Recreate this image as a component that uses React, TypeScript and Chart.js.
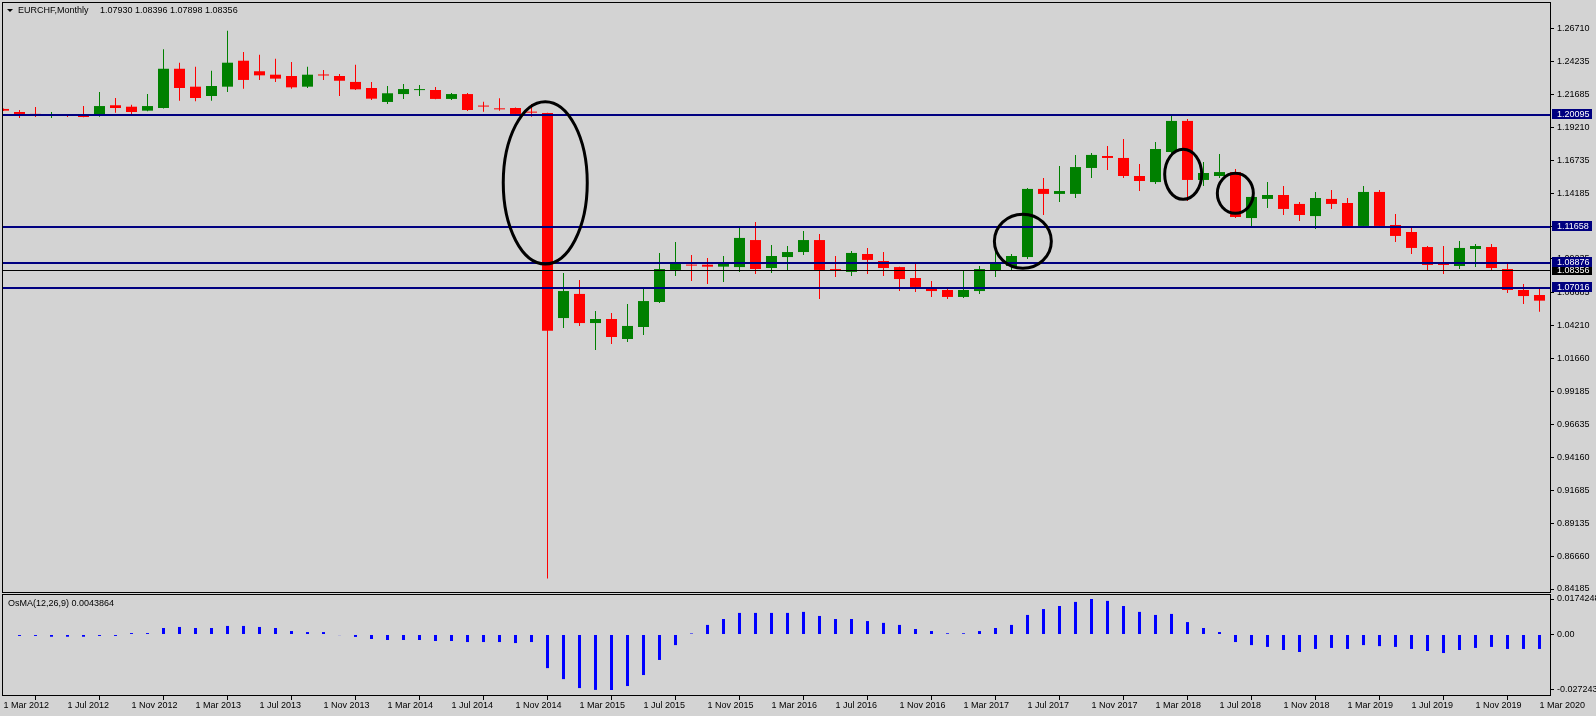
import React, { useEffect, useRef } from "react";
import { Chart, registerables } from "chart.js";

Chart.register(...registerables);

// ---- Monthly EURCHF candles, Mar 2012 (index 0) .. Mar 2020 (index 96) ----
const OPEN = [
  1.2062, 1.2039, 1.2019, 1.2012, 1.2014, 1.2014, 1.2021, 1.2090, 1.2079, 1.2049,
  1.2069, 1.2367, 1.2231, 1.2160, 1.2231, 1.2428, 1.2348, 1.2322, 1.2312, 1.2231,
  1.2319, 1.2312, 1.2267, 1.2221, 1.2115, 1.2175, 1.2205, 1.2206, 1.2138, 1.2175,
  1.2083, 1.2061, 1.2069, 1.2039, 1.2031, 1.0475, 1.0658, 1.0437, 1.0468, 1.0316,
  1.0407, 1.0597, 1.0840, 1.0878, 1.0880, 1.0865, 1.0862, 1.1067, 1.0855, 1.0938,
  1.0976, 1.1067, 1.0842, 1.0825, 1.0961, 1.0908, 1.0862, 1.0779, 1.0703, 1.0688,
  1.0635, 1.0680, 1.0832, 1.0870, 1.0938, 1.1455, 1.1417, 1.1417, 1.1614, 1.1705,
  1.1690, 1.1553, 1.1507, 1.1735, 1.1971, 1.1523, 1.1553, 1.1583, 1.1234, 1.1379,
  1.1409, 1.1341, 1.1249, 1.1379, 1.1348, 1.1174, 1.1432, 1.1181, 1.1128, 1.1014,
  1.0893, 1.0870, 1.0999, 1.1014, 1.0847, 1.0688, 1.0650,
];
const HIGH = [
  1.2066, 1.2054, 1.2077, 1.2039, 1.2019, 1.2084, 1.2191, 1.2145, 1.2094, 1.2175,
  1.2515, 1.2413, 1.2383, 1.2352, 1.2656, 1.2494, 1.2474, 1.2443, 1.2418, 1.2383,
  1.2358, 1.2327, 1.2398, 1.2267, 1.2236, 1.2251, 1.2244, 1.2229, 1.2183, 1.2183,
  1.2117, 1.2143, 1.2072, 1.2100, 1.2033, 1.0817, 1.0764, 1.0528, 1.0513, 1.0582,
  1.0703, 1.0969, 1.1052, 1.0954, 1.0931, 1.0946, 1.1166, 1.1204, 1.1029, 1.1022,
  1.1136, 1.1113, 1.0946, 1.0984, 1.1007, 1.0976, 1.0865, 1.0885, 1.0756, 1.0695,
  1.0840, 1.0870, 1.0991, 1.0961, 1.1462, 1.1538, 1.1629, 1.1713, 1.1728, 1.1781,
  1.1834, 1.1644, 1.1811, 1.2016, 1.1986, 1.1659, 1.1720, 1.1606, 1.1397, 1.1507,
  1.1477, 1.1356, 1.1432, 1.1447, 1.1386, 1.1477, 1.1447, 1.1264, 1.1158, 1.1022,
  1.1022, 1.1060, 1.1037, 1.1037, 1.0893, 1.0733, 1.0695,
];
const LOW = [
  1.2047, 1.1993, 1.2001, 1.1993, 1.2001, 1.1999, 1.2003, 1.2034, 1.2024, 1.2044,
  1.2066, 1.2125, 1.2120, 1.2125, 1.2191, 1.2216, 1.2282, 1.2267, 1.2216, 1.2221,
  1.2282, 1.2160, 1.2206, 1.2130, 1.2100, 1.2138, 1.2160, 1.2135, 1.2130, 1.2046,
  1.2041, 1.2049, 1.2020, 1.2003, 0.8498, 1.0399, 1.0415, 1.0232, 1.0278, 1.0293,
  1.0346, 1.0589, 1.0794, 1.0756, 1.0733, 1.0749, 1.0825, 1.0809, 1.0817, 1.0840,
  1.0954, 1.0620, 1.0787, 1.0794, 1.0809, 1.0794, 1.0680, 1.0673, 1.0635, 1.0620,
  1.0627, 1.0658, 1.0787, 1.0840, 1.0923, 1.1257, 1.1356, 1.1386, 1.1538, 1.1599,
  1.1538, 1.1439, 1.1492, 1.1720, 1.1363, 1.1477, 1.1538, 1.1234, 1.1174, 1.1310,
  1.1257, 1.1211, 1.1151, 1.1303, 1.1170, 1.1170, 1.1170, 1.1052, 1.0961, 1.0832,
  1.0809, 1.0847, 1.0862, 1.0840, 1.0665, 1.0582, 1.0523,
];
const CLOSE = [
  1.2049, 1.2024, 1.2017, 1.2014, 1.2010, 1.2001, 1.2084, 1.2069, 1.2039, 1.2084,
  1.2367, 1.2221, 1.2145, 1.2236, 1.2413, 1.2282, 1.2317, 1.2292, 1.2226, 1.2322,
  1.2316, 1.2276, 1.2211, 1.2140, 1.2181, 1.2213, 1.2208, 1.2138, 1.2175, 1.2054,
  1.2080, 1.2059, 1.2024, 1.2034, 1.0379, 1.0680, 1.0437, 1.0468, 1.0331, 1.0415,
  1.0604, 1.0847, 1.0893, 1.0873, 1.0865, 1.0893, 1.1083, 1.0847, 1.0946, 1.0976,
  1.1067, 1.0840, 1.0839, 1.0969, 1.0916, 1.0855, 1.0771, 1.0711, 1.0680, 1.0635,
  1.0688, 1.0847, 1.0893, 1.0946, 1.1455, 1.1417, 1.1439, 1.1621, 1.1713, 1.1690,
  1.1553, 1.1515, 1.1758, 1.1971, 1.1523, 1.1576, 1.1583, 1.1242, 1.1394, 1.1409,
  1.1303, 1.1257, 1.1386, 1.1341, 1.1174, 1.1432, 1.1174, 1.1098, 1.1007, 1.0878,
  1.0878, 1.1007, 1.1022, 1.0855, 1.0688, 1.0642, 1.0607,
];

// ---- OsMA(12,26,9) histogram ----
const OSMA = [
  null, -0.0007, -0.0007, -0.0011, -0.0011, -0.0011, -0.0007, -0.0007, 0.0007, 0.0007,
  0.0032, 0.0037, 0.0032, 0.0032, 0.0042, 0.0042, 0.0037, 0.0032, 0.0017, 0.0012,
  0.0012, -0.0003, -0.0012, -0.0022, -0.0027, -0.0027, -0.0027, -0.0032, -0.0032, -0.0037,
  -0.0037, -0.0037, -0.0042, -0.0037, -0.0165, -0.0219, -0.0263, -0.0272, -0.027243, -0.0253,
  -0.0199, -0.0125, -0.0052, 0.0005, 0.0047, 0.0076, 0.0106, 0.0106, 0.0106, 0.0106,
  0.0111, 0.0091, 0.0076, 0.0076, 0.0066, 0.0057, 0.0047, 0.0027, 0.0017, 0.0006,
  0.0006, 0.0017, 0.0032, 0.0047, 0.0096, 0.0125, 0.0140, 0.0160, 0.0174248, 0.0165,
  0.0140, 0.0111, 0.0096, 0.0101, 0.0061, 0.0032, 0.0012, -0.0037, -0.0052, -0.0061,
  -0.0076, -0.0086, -0.0071, -0.0066, -0.0071, -0.0052, -0.0057, -0.0061, -0.0071, -0.0081,
  -0.0091, -0.0076, -0.0066, -0.0061, -0.0071, -0.0071, -0.0071,
];

// ---- axes ----
const X_TICK_LABELS = [
  "1 Mar 2012", "1 Jul 2012", "1 Nov 2012", "1 Mar 2013", "1 Jul 2013", "1 Nov 2013",
  "1 Mar 2014", "1 Jul 2014", "1 Nov 2014", "1 Mar 2015", "1 Jul 2015", "1 Nov 2015",
  "1 Mar 2016", "1 Jul 2016", "1 Nov 2016", "1 Mar 2017", "1 Jul 2017", "1 Nov 2017",
  "1 Mar 2018", "1 Jul 2018", "1 Nov 2018", "1 Mar 2019", "1 Jul 2019", "1 Nov 2019",
  "1 Mar 2020",
];
const X_TICK_INDEX = [0, 4, 8, 12, 16, 20, 24, 28, 32, 36, 40, 44, 48, 52, 56, 60, 64, 68, 72, 76, 80, 84, 88, 92, 96];
const PRICE_TICKS = [
  1.2671, 1.24235, 1.21685, 1.1921, 1.16735, 1.14185, 1.1171, 1.09235, 1.06685,
  1.0421, 1.0166, 0.99185, 0.96635, 0.9416, 0.91685, 0.89135, 0.8666, 0.84185,
];
const OSMA_TICKS = [0.0174248, 0, -0.027243];
const OSMA_TICK_LABELS = ["0.0174248", "0.00", "-0.027243"];

// ---- horizontal levels and annotations ----
const LEVELS = [1.20095, 1.11658, 1.08876, 1.07016];
const LEVEL_LABELS = ["1.20095", "1.11658", "1.08876", "1.07016"];
const BID = 1.08356;
const BID_LABEL = "1.08356";
const ELLIPSE_MONTH = [33.86, 63.71, 73.73, 76.99];
const ELLIPSE_PRICE = [1.15014, 1.10574, 1.1566, 1.14218];
const ELLIPSE_HALF_MONTHS = [2.625, 1.78, 1.156, 1.125];
const ELLIPSE_HALF_PRICE = [0.0616, 0.0205, 0.019, 0.0152];

const HEADER_SYMBOL = "EURCHF,Monthly";
const HEADER_PRICES = "1.07930 1.08396 1.07898 1.08356";
const OSMA_TITLE = "OsMA(12,26,9) 0.0043864";

// ---- style ----
const BG = "#D3D3D3";
const RED = "#FF0000";
const GREEN = "#008000";
const NAVY = "#000080";
const BLUE = "#0000FF";
const FONT = '"Liberation Sans", Arial, sans-serif';
const FONT_SIZE = 9;

const X_MIN = -0.09375;
const X_MAX = 96.71875;
const Y_MAX = 1.287364;
const Y_MIN = 0.838825;
const OSC_MAX = 0.019882;
const OSC_MIN = -0.030191;

function fixAxis(width?: number, height?: number) {
  return (ax: any) => {
    if (width !== undefined) ax.width = width;
    if (height !== undefined) ax.height = height;
    ax.paddingTop = 0;
    ax.paddingBottom = 0;
    ax.paddingLeft = 0;
    ax.paddingRight = 0;
  };
}

export default function App() {
  const mainRef = useRef<HTMLCanvasElement>(null);
  const oscRef = useRef<HTMLCanvasElement>(null);

  useEffect(() => {
    document.body.style.margin = "0";
    document.body.style.background = BG;

    const idx = OPEN.map((_, i) => i);
    const colors = idx.map((i) => (CLOSE[i] >= OPEN[i] ? GREEN : RED));

    const mainPlugin = {
      id: "mt4main",
      afterDatasetsDraw(chart: any) {
        const { ctx, chartArea: a, scales } = chart;
        const ys = scales.y;
        const xs = scales.x;
        ctx.save();
        ctx.beginPath();
        ctx.rect(a.left, a.top, a.right - a.left, a.bottom - a.top);
        ctx.clip();
        ctx.fillStyle = "#000000";
        const by = Math.floor(ys.getPixelForValue(BID));
        ctx.fillRect(a.left, by, a.right - a.left, 1);
        ctx.fillStyle = NAVY;
        LEVELS.forEach((v) => {
          const py = Math.floor(ys.getPixelForValue(v)) - 1;
          ctx.fillRect(a.left, py, a.right - a.left, 2);
        });
        ctx.strokeStyle = "#000000";
        ctx.lineWidth = 3;
        ELLIPSE_MONTH.forEach((m, k) => {
          const cx = xs.getPixelForValue(m);
          const cy = ys.getPixelForValue(ELLIPSE_PRICE[k]);
          const rx = Math.abs(xs.getPixelForValue(m + ELLIPSE_HALF_MONTHS[k]) - cx);
          const ry = Math.abs(ys.getPixelForValue(ELLIPSE_PRICE[k] + ELLIPSE_HALF_PRICE[k]) - cy);
          ctx.beginPath();
          ctx.ellipse(cx, cy, rx, ry, 0, 0, Math.PI * 2);
          ctx.stroke();
        });
        ctx.restore();
      },
      afterDraw(chart: any) {
        const { ctx, chartArea: a, scales } = chart;
        const ys = scales.y;
        ctx.save();
        ctx.strokeStyle = "#000000";
        ctx.lineWidth = 1;
        ctx.strokeRect(a.left + 0.5, a.top + 0.5, a.right - a.left - 1, a.bottom - a.top - 1);
        ctx.font = `${FONT_SIZE}px ${FONT}`;
        ctx.textBaseline = "middle";
        ctx.textAlign = "left";
        // bid label
        const bpy = ys.getPixelForValue(BID);
        ctx.fillStyle = "#000000";
        ctx.fillRect(a.right + 1, Math.floor(bpy) - 5, 40, 10);
        ctx.fillStyle = "#FFFFFF";
        ctx.fillText(BID_LABEL, a.right + 6, bpy);
        LEVELS.forEach((v, k) => {
          const py = ys.getPixelForValue(v);
          ctx.fillStyle = NAVY;
          ctx.fillRect(a.right + 1, Math.floor(py) - 6, 40, 10);
          ctx.fillStyle = "#FFFFFF";
          ctx.fillText(LEVEL_LABELS[k], a.right + 6, py - 1);
        });
        // header
        ctx.fillStyle = "#000000";
        ctx.beginPath();
        ctx.moveTo(7, 9);
        ctx.lineTo(13, 9);
        ctx.lineTo(10, 12);
        ctx.closePath();
        ctx.fill();
        ctx.fillText(HEADER_SYMBOL, 18, 11);
        ctx.fillText(HEADER_PRICES, 100, 11);
        ctx.restore();
      },
    };

    const oscPlugin = {
      id: "mt4osc",
      afterDraw(chart: any) {
        const { ctx, chartArea: a } = chart;
        ctx.save();
        ctx.strokeStyle = "#000000";
        ctx.lineWidth = 1;
        ctx.strokeRect(a.left + 0.5, a.top + 0.5, a.right - a.left - 1, a.bottom - a.top - 1);
        ctx.fillStyle = "#000000";
        ctx.font = `${FONT_SIZE}px ${FONT}`;
        ctx.textBaseline = "middle";
        ctx.textAlign = "left";
        ctx.fillText(OSMA_TITLE, 8, 9.5);
        ctx.restore();
      },
    };

    const tickFont = { family: FONT, size: FONT_SIZE };

    const main = new Chart(mainRef.current as HTMLCanvasElement, {
      type: "bar",
      data: {
        datasets: [
          {
            label: "wick",
            data: idx.map((i) => ({ x: i, y: [LOW[i], HIGH[i]] })),
            backgroundColor: colors,
            barThickness: 1,
            grouped: false,
            inflateAmount: 0,
            borderWidth: 0,
            order: 2,
          } as any,
          {
            label: "body",
            data: idx.map((i) => ({ x: i, y: [OPEN[i], CLOSE[i]] })),
            backgroundColor: colors,
            barThickness: 11,
            grouped: false,
            inflateAmount: 0,
            borderWidth: 0,
            minBarLength: 1,
            order: 1,
          } as any,
        ],
      },
      options: {
        responsive: false,
        animation: false,
        devicePixelRatio: 1,
        events: [],
        layout: { padding: { left: 2, top: 2, right: 0, bottom: 1 } },
        plugins: { legend: { display: false }, tooltip: { enabled: false } },
        scales: {
          x: { type: "linear", min: X_MIN, max: X_MAX, offset: false, display: false },
          y: {
            type: "linear",
            position: "right",
            min: Y_MIN,
            max: Y_MAX,
            afterBuildTicks: (ax: any) => {
              ax.ticks = PRICE_TICKS.map((v) => ({ value: v }));
            },
            afterFit: fixAxis(45, undefined),
            ticks: {
              autoSkip: false,
              padding: 3,
              color: "#000000",
              font: tickFont,
              callback: (v: any) => Number(v).toFixed(5),
            },
            grid: { drawOnChartArea: false, drawTicks: true, tickLength: 3, color: "#000000", lineWidth: 1 },
            border: { display: false },
          },
        },
      } as any,
      plugins: [mainPlugin],
    });

    const osc = new Chart(oscRef.current as HTMLCanvasElement, {
      type: "bar",
      data: {
        datasets: [
          {
            label: "OsMA",
            data: idx.map((i) => ({ x: i, y: OSMA[i] })),
            backgroundColor: BLUE,
            barThickness: 3,
            inflateAmount: 0,
            borderWidth: 0,
          } as any,
        ],
      },
      options: {
        responsive: false,
        animation: false,
        devicePixelRatio: 1,
        events: [],
        layout: { padding: { left: 2, top: 0, right: 0, bottom: 0 } },
        plugins: { legend: { display: false }, tooltip: { enabled: false } },
        scales: {
          x: {
            type: "linear",
            position: "bottom",
            min: X_MIN,
            max: X_MAX,
            offset: false,
            afterBuildTicks: (ax: any) => {
              ax.ticks = X_TICK_INDEX.map((v) => ({ value: v }));
            },
            afterFit: fixAxis(undefined, 20),
            ticks: {
              autoSkip: false,
              maxRotation: 0,
              minRotation: 0,
              align: "start",
              padding: 0,
              color: "#000000",
              font: tickFont,
              callback: (_v: any, k: number) => X_TICK_LABELS[k],
            },
            grid: { drawOnChartArea: false, drawTicks: true, tickLength: 4, color: "#000000", lineWidth: 1 },
            border: { display: false },
          },
          y: {
            type: "linear",
            position: "right",
            min: OSC_MIN,
            max: OSC_MAX,
            afterBuildTicks: (ax: any) => {
              ax.ticks = OSMA_TICKS.map((v) => ({ value: v }));
            },
            afterFit: fixAxis(45, undefined),
            ticks: {
              autoSkip: false,
              padding: 3,
              color: "#000000",
              font: tickFont,
              callback: (_v: any, k: number) => OSMA_TICK_LABELS[k],
            },
            grid: { drawOnChartArea: false, drawTicks: true, tickLength: 3, color: "#000000", lineWidth: 1 },
            border: { display: false },
          },
        },
      } as any,
      plugins: [oscPlugin],
    });

    return () => {
      main.destroy();
      osc.destroy();
    };
  }, []);

  return (
    <div style={{ position: "relative", width: 1596, height: 716, background: BG, overflow: "hidden" }}>
      <canvas ref={mainRef} width={1596} height={594} style={{ display: "block" }} />
      <canvas ref={oscRef} width={1596} height={122} style={{ display: "block" }} />
    </div>
  );
}
